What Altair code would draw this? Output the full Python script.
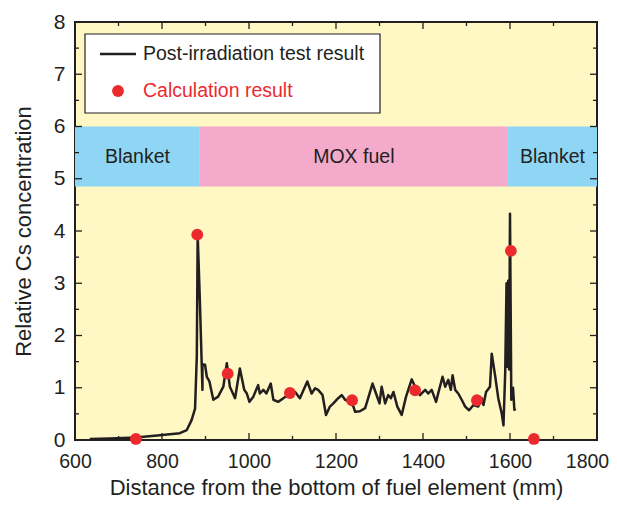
import altair as alt
import pandas as pd

# ---- data ----
line_x = [634, 680, 740, 795, 841, 857, 868, 876, 880, 882, 887, 893, 893, 899, 903, 909, 918, 929, 941, 949,
          956, 968, 979, 989, 995, 1001, 1010, 1021, 1025, 1033, 1040, 1050, 1056, 1067, 1079, 1094, 1106, 1117,
          1134, 1144, 1152, 1159, 1169, 1177, 1186, 1194, 1205, 1213, 1221, 1232, 1240, 1244, 1255, 1267, 1274,
          1284, 1292, 1300, 1305, 1313, 1320, 1326, 1332, 1341, 1351, 1361, 1374, 1382, 1393, 1405, 1412, 1420,
          1430, 1437, 1445, 1451, 1458, 1464, 1468, 1474, 1481, 1489, 1497, 1506, 1516, 1527, 1535, 1539, 1545,
          1554, 1558, 1566, 1573, 1581, 1585, 1589, 1592, 1594, 1596, 1598, 1600, 1603, 1607, 1610, 1613]
line_y = [0.02, 0.03, 0.05, 0.09, 0.13, 0.19, 0.38, 0.60, 1.60, 3.93, 2.68, 0.96, 1.45, 1.44, 1.21, 1.12, 0.77, 0.83, 1.02, 1.47,
          1.02, 0.80, 1.37, 0.96, 0.89, 0.73, 0.83, 1.05, 0.89, 0.96, 0.89, 1.08, 0.77, 0.73, 0.80, 0.89, 0.92, 0.80,
          1.12, 0.89, 0.99, 0.96, 0.86, 0.48, 0.64, 0.70, 0.80, 0.86, 0.77, 0.73, 0.64, 0.54, 0.55, 0.61, 0.80,
          1.08, 0.89, 0.70, 1.02, 0.70, 0.86, 0.80, 0.92, 0.64, 0.48, 0.83, 1.16, 1.02, 0.86, 0.96, 0.89, 0.96,
          0.73, 0.96, 1.21, 1.02, 1.15, 0.96, 1.24, 0.96, 0.89, 0.77, 0.64, 0.57, 0.67, 0.64, 0.80, 0.67, 0.92,
          1.02, 1.65, 1.22, 0.80, 0.51, 0.28, 1.30, 3.00, 1.40, 3.05, 1.35, 4.33, 0.77, 1.00, 0.58, 0.60]

calc_x = [740, 881, 951, 1094, 1237, 1382, 1524, 1602, 1655]
calc_y = [0.02, 3.93, 1.27, 0.90, 0.76, 0.95, 0.76, 3.62, 0.02]

band_names = ["Blanket", "MOX fuel", "Blanket"]
band_start = [600, 887, 1595]
band_end = [887, 1595, 1800]
band_colors = ["#8ED6F4", "#F3AACB", "#8ED6F4"]
band_low, band_high = 4.85, 6.0

x_major = [600, 800, 1000, 1200, 1400, 1600, 1800]
x_minor = [700, 900, 1100, 1300, 1500, 1700]
y_major = [0, 1, 2, 3, 4, 5, 6, 7, 8]
y_minor = [0.5, 1.5, 2.5, 3.5, 4.5, 5.5, 6.5, 7.5]

legend_labels = ["Post-irradiation test result", "Calculation result"]
x_title = "Distance from the bottom of fuel element (mm)"
y_title = "Relative Cs concentration"

FONT = "Liberation Sans"
INK = "#231F20"
RED = "#EC2A2E"
W, H = 522, 418

line_df = pd.DataFrame({"x": line_x, "y": line_y, "i": range(len(line_x))})
calc_df = pd.DataFrame({"x": calc_x, "y": calc_y})
band_df = pd.DataFrame({"name": band_names, "x": band_start, "x1": band_end,
                        "c": band_colors, "y": band_low, "y1": band_high})
band_df["xm"] = (band_df["x"] + band_df["x1"]) / 2
band_df["ym"] = (band_low + band_high) / 2

xs = alt.Scale(domain=[600, 1800], nice=False, zero=False, padding=0)
ys = alt.Scale(domain=[0, 8], nice=False, zero=False, padding=0)

X_AX = alt.Axis(values=x_major, ticks=False, domain=False, grid=False, labelFontSize=19.5,
                labelFont=FONT, labelColor=INK, labelPadding=12, labelFlush=False,
                labelOverlap=False,
                labelOffset={"condition": {"test": "datum.value == 1800", "value": -10}, "value": 0},
                titleFont=FONT,
                titleFontSize=22, titleFontWeight="normal", titleColor=INK, titlePadding=7,
                format="d")
Y_AX = alt.Axis(values=y_major, ticks=False, domain=False, grid=False, labelFontSize=21,
                labelFont=FONT, labelColor=INK, labelPadding=10, labelFlush=False,
                labelOverlap=False, titleFont=FONT,
                titleFontSize=22, titleFontWeight="normal", titleColor=INK, titlePadding=18,
                format="d")


def X(field):
    return alt.X(field, scale=xs, axis=X_AX, title=x_title)


def Y(field):
    return alt.Y(field, scale=ys, axis=Y_AX, title=y_title)


bands = alt.Chart(band_df).mark_rect().encode(
    x=X("x:Q"), x2="x1:Q", y=Y("y:Q"), y2="y1:Q",
    color=alt.Color("c:N", scale=None),
)
band_text = alt.Chart(band_df).mark_text(font=FONT, fontSize=19.5, color=INK, baseline="middle").encode(
    x=X("xm:Q"), y=Y("ym:Q"), text="name:N"
)

line = alt.Chart(line_df).mark_line(color=INK, strokeWidth=2.5, strokeJoin="round").encode(
    x=X("x:Q"), y=Y("y:Q"), order="i:Q",
)

points = alt.Chart(calc_df).mark_point(filled=True, shape="circle", size=140, color=RED, opacity=1).encode(
    x=X("x:Q"), y=Y("y:Q")
)


def xticks(vals, length):
    d = pd.DataFrame({"x": vals})
    bot = alt.Chart(d).mark_rule(color=INK, strokeWidth=1.3).encode(
        x=X("x:Q"), y=alt.value(H), y2=alt.value(H - length))
    top = alt.Chart(d).mark_rule(color=INK, strokeWidth=1.3).encode(
        x=X("x:Q"), y=alt.value(0), y2=alt.value(length))
    return [bot, top]


def yticks(vals, length):
    d = pd.DataFrame({"y": vals})
    left = alt.Chart(d).mark_rule(color=INK, strokeWidth=1.3).encode(
        y=Y("y:Q"), x=alt.value(0), x2=alt.value(length))
    right = alt.Chart(d).mark_rule(color=INK, strokeWidth=1.3).encode(
        y=Y("y:Q"), x=alt.value(W), x2=alt.value(W - length))
    return [left, right]


ticks = xticks(x_major, 7) + xticks(x_minor, 4) + yticks(y_major, 7) + yticks(y_minor, 4)

# legend box drawn by hand
one = pd.DataFrame({"a": [0]})
leg_box = alt.Chart(one).mark_rect(fill="white", stroke=INK, strokeWidth=1.2).encode(
    x=alt.value(10), x2=alt.value(305), y=alt.value(12), y2=alt.value(91))
leg_line = alt.Chart(one).mark_rule(color=INK, strokeWidth=2.5).encode(
    x=alt.value(25), x2=alt.value(61), y=alt.value(32))
leg_dot = alt.Chart(one).mark_point(filled=True, shape="circle", size=140, color=RED, opacity=1).encode(
    x=alt.value(43), y=alt.value(69))
leg_t1 = alt.Chart(pd.DataFrame({"t": [legend_labels[0]]})).mark_text(
    font=FONT, fontSize=19.5, color=INK, align="left", baseline="middle").encode(
    x=alt.value(68), y=alt.value(32), text="t:N")
leg_t2 = alt.Chart(pd.DataFrame({"t": [legend_labels[1]]})).mark_text(
    font=FONT, fontSize=19.5, color=RED, align="left", baseline="middle").encode(
    x=alt.value(68), y=alt.value(69), text="t:N")

chart = alt.layer(
    bands, band_text, line, points, *ticks, leg_box, leg_line, leg_dot, leg_t1, leg_t2
).properties(
    width=W, height=H,
    padding={"left": 67, "top": 14, "right": 12, "bottom": 62},
    autosize=alt.AutoSizeParams(type="none"),
).configure_view(
    fill="#FFF8C4", stroke=INK, strokeWidth=2
)

chart.save("out.html", embed_options={"renderer": "svg", "actions": False})
